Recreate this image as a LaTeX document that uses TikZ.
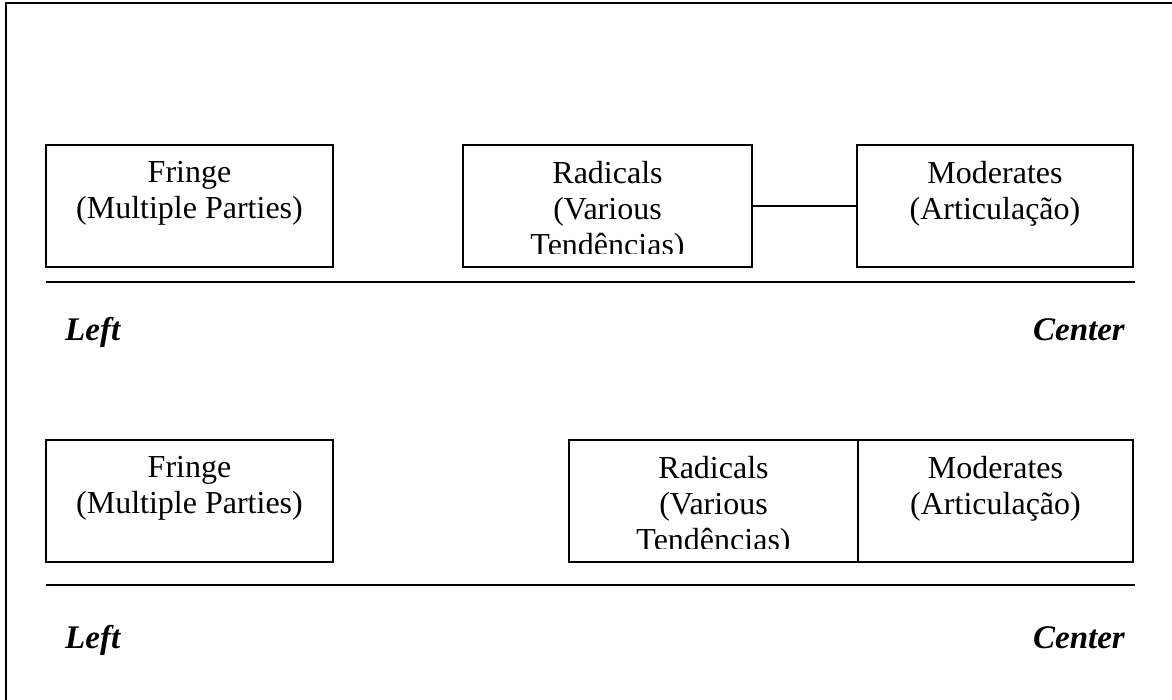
\documentclass[tikz,border=0pt]{standalone}
\usepackage{fontspec}
\setmainfont{Liberation Serif}
\begin{document}
\begin{tikzpicture}[x=1pt,y=-1pt,
  box/.style={draw, line width=1.4pt, inner sep=0pt, minimum height=122pt},
  boxtext/.style={anchor=north, align=center, inner sep=0pt, font=\fontsize{32}{36}\selectfont},
  axis/.style={line width=1.8pt},
  side/.style={inner sep=0pt, font=\fontsize{33}{36}\selectfont\bfseries\itshape},
  frame/.style={line width=2pt}]
\useasboundingbox (0,0) rectangle (1172,700);
% frame
\coordinate (ftr) at (1172,3);
\coordinate (ftl) at (6,3);
\coordinate (fbl) at (6,700);
\draw[frame] (ftr) -- (ftl) -- (fbl);

% ---------- top row ----------
\node[box, minimum width=287pt] (F1) at (189.5,206) {};
\node[box, minimum width=289pt] (R1) at (607.5,206) {};
\node[box, minimum width=276pt] (M1) at (995,206) {};
\node[boxtext] (F1t) at ([yshift=-17pt]F1.north) {Fringe\\(Multiple Parties)};
\begin{scope}
  \clip (R1.north west) rectangle ([yshift=14pt]R1.south east);
  \node[boxtext] (R1t) at ([yshift=-17pt]R1.north) {Radicals\\(Various\\Tendências)};
\end{scope}
\node[boxtext] (M1t) at ([yshift=-17pt]M1.north) {Moderates\\(Articulação)};
\draw[line width=1.4pt] (R1.east) -- (M1.west);

\coordinate (l1a) at (46,282);
\coordinate (l1b) at (1135,282);
\draw[axis] (l1a) -- (l1b);
\node[side, anchor=base west] (L1) at (65,341) {Left};
\node[side, anchor=base east] (C1) at (1125,341) {Center};

% ---------- bottom row ----------
\node[box, minimum width=287pt] (F2) at (189.5,501) {};
\node[box, minimum width=289pt] (R2) at (713.5,501) {};
\node[box, minimum width=275pt] (M2) at (995.5,501) {};
\node[boxtext] (F2t) at ([yshift=-17pt]F2.north) {Fringe\\(Multiple Parties)};
\begin{scope}
  \clip (R2.north west) rectangle ([yshift=14pt]R2.south east);
  \node[boxtext] (R2t) at ([yshift=-17pt]R2.north) {Radicals\\(Various\\Tendências)};
\end{scope}
\node[boxtext] (M2t) at ([yshift=-17pt]M2.north) {Moderates\\(Articulação)};

\coordinate (l2a) at (46,585);
\coordinate (l2b) at (1135,585);
\draw[axis] (l2a) -- (l2b);
\node[side, anchor=base west] (L2) at (65,648) {Left};
\node[side, anchor=base east] (C2) at (1125,648) {Center};
\end{tikzpicture}
\end{document}
